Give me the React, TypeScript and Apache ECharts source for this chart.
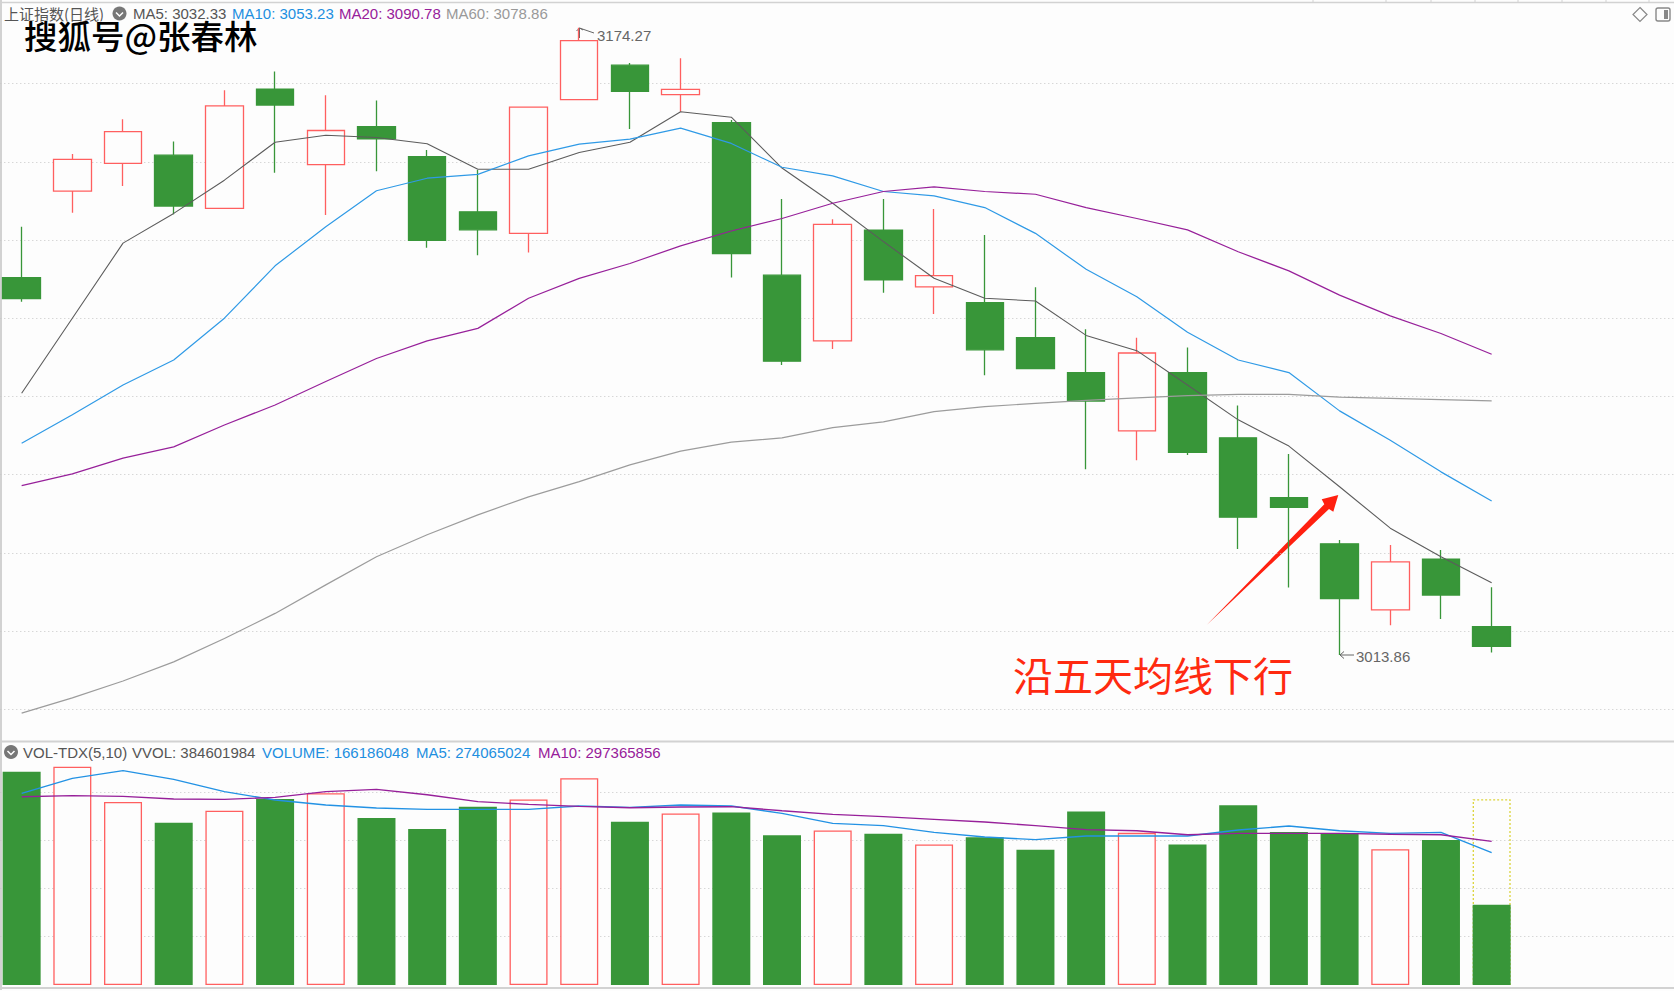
import React, { useEffect, useRef } from "react";
import * as echarts from "echarts";

const categories = Array.from({ length: 34 }, (_, i) => `D${i + 1}`);
const opens = [3110.4,3132.5,3139.6,3141.7,3128.1,3158.6,3139.3,3149.0,3141.3,3127.2,3121.7,3155.9,3164.7,3157.2,3150.0,3111.0,3094.2,3122.5,3108.0,3104.0,3095.0,3086.1,3071.2,3086.1,3069.4,3054.1,3042.3,3025.4,3038.4,3021.1];
const closes = [3105.0,3140.6,3147.7,3128.7,3154.3,3154.5,3148.0,3145.9,3119.9,3122.6,3154.0,3171.0,3158.0,3158.5,3116.5,3089.0,3124.0,3109.8,3110.9,3091.9,3087.1,3078.8,3091.1,3065.7,3049.1,3051.6,3028.3,3037.7,3029.2,3016.1];
const lows = [3104.2,3127.0,3133.8,3126.6,3128.1,3137.2,3126.4,3137.6,3118.0,3116.1,3116.8,3155.9,3148.4,3152.8,3110.4,3088.0,3092.1,3106.5,3101.1,3085.4,3087.1,3061.4,3063.7,3065.0,3041.0,3031.1,3013.86,3021.5,3023.1,3014.5];
const highs = [3123.4,3142.0,3150.9,3145.2,3158.3,3163.1,3157.0,3155.7,3143.0,3137.9,3154.0,3174.27,3165.3,3166.5,3150.7,3130.5,3125.3,3130.5,3127.9,3121.3,3107.9,3097.2,3095.0,3092.5,3077.7,3065.3,3043.3,3042.0,3040.7,3031.2];
const ma5 = [3080.8,3100.0,3119.2,3126.8,3135.3,3145.0,3146.8,3146.2,3144.6,3138.1,3138.1,3142.4,3145.0,3152.8,3151.4,3138.4,3129.4,3119.6,3110.2,3105.1,3104.4,3095.6,3091.7,3082.9,3074.0,3067.3,3056.9,3046.3,3039.0,3032.33];
const ma10 = [3068.0,3075.3,3082.9,3089.3,3100.0,3113.4,3123.4,3132.6,3135.8,3136.8,3141.5,3144.5,3145.8,3148.6,3144.7,3138.6,3136.4,3132.4,3131.3,3128.3,3121.7,3112.5,3105.5,3096.4,3089.3,3086.1,3076.3,3068.8,3060.7,3053.23];
const ma20 = [3057.2,3060.2,3064.2,3067.1,3072.7,3077.8,3083.8,3089.7,3094.2,3097.4,3105.1,3110.2,3114.0,3118.5,3122.3,3125.5,3129.4,3132.4,3133.6,3132.4,3131.7,3128.3,3125.5,3122.6,3117.0,3112.1,3105.9,3100.6,3096.1,3090.78];
const ma60 = [2999.0,3002.9,3007.2,3012.1,3018.1,3024.5,3031.8,3039.0,3044.6,3049.7,3054.3,3058.2,3062.5,3066.0,3068.3,3069.4,3072.0,3073.5,3076.1,3077.4,3078.2,3079.0,3079.6,3080.2,3080.5,3080.5,3079.8,3079.5,3079.2,3078.86];
// volumes, in millions
const volumes = [441.6,452,379,336,361,385,397,346,323,369,384,428,338,355,357,310,320,313,291,306,280,359,315,291,372,317,314,281,300,166.186048];
const volMa5 = [396.8,427.9,443.8,425.8,400.3,383,372.7,366.5,363.7,363.7,363.7,370.6,367.8,372.7,370.6,355.4,334.7,329.9,316.1,306.4,300.9,308.5,308.5,308.5,320.9,329.2,319.5,314,316,274.065024];
const volMa10 = [389.9,392,390.6,385.1,384.4,388.5,400.3,405.1,394,379.6,374,369.9,367.1,368.5,369.2,360.9,353.3,348.5,343,337.5,329.9,321.6,319.5,311.2,314,314,314,312,311.2,297.365856];
const forecastVolume = 384.601984;
const topTicks = [1313, 1386, 1431, 1475, 1518, 1562, 1606, 1649];

const RED = "#ff5f5f";
const GREEN = "#389639";
const PAPER = "#fdfdfd";
const GRID = "#c6c6c6";
const FONT = "'Liberation Sans', Arial, sans-serif";
const CJK = "'Noto Sans CJK SC', sans-serif";

const headerTexts = [
  { text: "上证指数(日线)", x: 4, y: 13, fill: "#555555" },
  { text: "MA5: 3032.33", x: 133, y: 13, fill: "#555555" },
  { text: "MA10: 3053.23", x: 232, y: 13, fill: "#1e8fe0" },
  { text: "MA20: 3090.78", x: 339, y: 13, fill: "#97209a" },
  { text: "MA60: 3078.86", x: 446, y: 13, fill: "#999999" },
  { text: "VOL-TDX(5,10)", x: 23, y: 752, fill: "#555555" },
  { text: "VVOL: 384601984", x: 132, y: 752, fill: "#555555" },
  { text: "VOLUME: 166186048", x: 262, y: 752, fill: "#1e8fe0" },
  { text: "MA5: 274065024", x: 416, y: 752, fill: "#1e8fe0" },
  { text: "MA10: 297365856", x: 538, y: 752, fill: "#97209a" },
  { text: "3174.27", x: 597, y: 35, fill: "#666666" },
  { text: "3013.86", x: 1356, y: 656, fill: "#666666" },
];

function badge(cx: number, cy: number) {
  return [
    { type: "circle", shape: { cx, cy, r: 7 }, style: { fill: "#777777" } },
    {
      type: "polyline",
      shape: { points: [[cx - 3.5, cy - 1], [cx, cy + 2.5], [cx + 3.5, cy - 1]] },
      style: { stroke: "#ffffff", lineWidth: 1.5, fill: "none" },
    },
  ];
}

function borderLine(x1: number, y1: number, x2: number, y2: number, lineWidth = 2) {
  return { type: "line", shape: { x1, y1, x2, y2 }, style: { stroke: "#d2d2d2", lineWidth } };
}

export default function App() {
  const ref = useRef<HTMLDivElement>(null);
  useEffect(() => {
    document.body.style.margin = "0";
    const chart = echarts.init(ref.current!, undefined, { renderer: "svg" });
    const isUp = closes.map((c, i) => c >= opens[i]);
    const noSym = { showSymbol: false, symbol: "none", silent: true };
    const plotWidth = 34 * 50.69;
    chart.setOption({
      animation: false,
      backgroundColor: PAPER,
      grid: [
        { left: 0.3, top: 5.4, width: plotWidth, height: 782 },
        { left: 0.3, top: 743.5, width: plotWidth, height: 241.5 },
      ],
      xAxis: [
        { type: "category", gridIndex: 0, data: categories, show: false },
        { type: "category", gridIndex: 1, data: categories, show: false },
      ],
      yAxis: [
        {
          type: "value", gridIndex: 0, min: 2980, max: 3180, interval: 20,
          axisLine: { show: false }, axisTick: { show: false }, axisLabel: { show: false },
          splitLine: { show: true, showMinLine: false, showMaxLine: false, lineStyle: { color: GRID, type: [1, 3], width: 1 } },
        },
        {
          type: "value", gridIndex: 1, min: 0, max: 500, interval: 100,
          axisLine: { show: false }, axisTick: { show: false }, axisLabel: { show: false },
          splitLine: { show: true, showMinLine: false, showMaxLine: false, lineStyle: { color: GRID, type: [1, 3], width: 1 } },
        },
      ],
      series: [
        {
          type: "candlestick", xAxisIndex: 0, yAxisIndex: 0, barWidth: 38, silent: true,
          data: opens.map((o, i) => [o, closes[i], lows[i], highs[i]]),
          itemStyle: { color: PAPER, color0: GREEN, borderColor: RED, borderColor0: GREEN, borderWidth: 1.3 },
        },
        { type: "line", xAxisIndex: 0, yAxisIndex: 0, data: ma5, ...noSym, lineStyle: { color: "#5c5c5c", width: 1.1 } },
        { type: "line", xAxisIndex: 0, yAxisIndex: 0, data: ma10, ...noSym, lineStyle: { color: "#2f9ae6", width: 1.2 } },
        { type: "line", xAxisIndex: 0, yAxisIndex: 0, data: ma20, ...noSym, lineStyle: { color: "#97209a", width: 1.2 } },
        { type: "line", xAxisIndex: 0, yAxisIndex: 0, data: ma60, ...noSym, lineStyle: { color: "#9c9c9c", width: 1.2 } },
        {
          type: "bar", xAxisIndex: 1, yAxisIndex: 1, barWidth: 38, barGap: "-100%", silent: true,
          data: volumes.map((_, i) => (i === volumes.length - 1 ? forecastVolume : null)),
          itemStyle: { color: "transparent", borderColor: "#dcd43a", borderWidth: 1.3, borderType: [2, 2] },
        },
        {
          type: "bar", xAxisIndex: 1, yAxisIndex: 1, barWidth: 38, barGap: "-100%", silent: true,
          data: volumes.map((v, i) => ({
            value: v,
            itemStyle: isUp[i]
              ? { color: PAPER, borderColor: RED, borderWidth: 1.3 }
              : { color: GREEN, borderColor: GREEN, borderWidth: 0 },
          })),
        },
        { type: "line", xAxisIndex: 1, yAxisIndex: 1, data: volMa5, ...noSym, lineStyle: { color: "#2392e4", width: 1.4 } },
        { type: "line", xAxisIndex: 1, yAxisIndex: 1, data: volMa10, ...noSym, lineStyle: { color: "#97209a", width: 1.4 } },
      ],
      graphic: [
        {
          // the chart's box starts 4px left of the page so the first candle is cut as in the reference
          type: "group", x: 4, y: 0,
          children: [
            borderLine(0, 2.5, 1674, 2.5, 1.5),
            ...topTicks.map((x) => borderLine(x, 0, x, 2.5, 1)),
            borderLine(1, 0, 1, 990),
            borderLine(0, 741.5, 1674, 741.5),
            borderLine(0, 988, 1674, 988),
            ...headerTexts.map((t) => ({
              type: "text", x: t.x, y: t.y,
              style: { text: t.text, fill: t.fill, font: `15px ${/^[\x00-\x7f]+$/.test(t.text) ? FONT : CJK}`, textVerticalAlign: "middle" },
            })),
            ...badge(119.5, 13.5),
            ...badge(11, 752),
            {
              type: "text", x: 24, y: 34,
              style: { text: "搜狐号@张春林", fill: "#000000", stroke: "#ffffff", lineWidth: 0.8, font: `500 33.5px ${CJK}`, textVerticalAlign: "middle" },
            },
            { type: "polyline", shape: { points: [[579.5, 38], [579.5, 28], [594, 33]] }, style: { stroke: "#666666", lineWidth: 1, fill: "none" } },
            { type: "polyline", shape: { points: [[576.5, 31], [579.5, 28], [583, 30]] }, style: { stroke: "#666666", lineWidth: 1, fill: "none" } },
            { type: "line", shape: { x1: 1340, y1: 655, x2: 1354, y2: 655 }, style: { stroke: "#666666", lineWidth: 1 } },
            { type: "polyline", shape: { points: [[1344, 651.5], [1340, 655], [1344, 658.5]] }, style: { stroke: "#666666", lineWidth: 1, fill: "none" } },
            {
              type: "polygon",
              shape: { points: [[1206.7, 625], [1324.3, 504.3], [1321.7, 499.3], [1338.3, 495], [1333.3, 511.7], [1329, 509]] },
              style: { fill: "#ff2010" },
            },
            {
              type: "text", x: 1013, y: 674,
              style: { text: "沿五天均线下行", fill: "#ff2a10", font: `40px ${CJK}`, textVerticalAlign: "middle" },
            },
            { type: "polygon", shape: { points: [[1640, 7.5], [1647, 14.5], [1640, 21.5], [1633, 14.5]] }, style: { fill: "none", stroke: "#888888", lineWidth: 1.2 } },
            { type: "rect", shape: { x: 1656, y: 8, width: 14, height: 13, r: 2 }, style: { fill: "none", stroke: "#888888", lineWidth: 1.4 } },
            { type: "rect", shape: { x: 1664, y: 10, width: 4, height: 9 }, style: { fill: "#888888" } },
          ],
        },
      ],
    });
    return () => chart.dispose();
  }, []);
  return (
    <div style={{ position: "relative", width: 1674, height: 991, overflow: "hidden" }}>
      <div ref={ref} style={{ position: "absolute", left: -4, top: 0, width: 1730, height: 991 }} />
    </div>
  );
}
